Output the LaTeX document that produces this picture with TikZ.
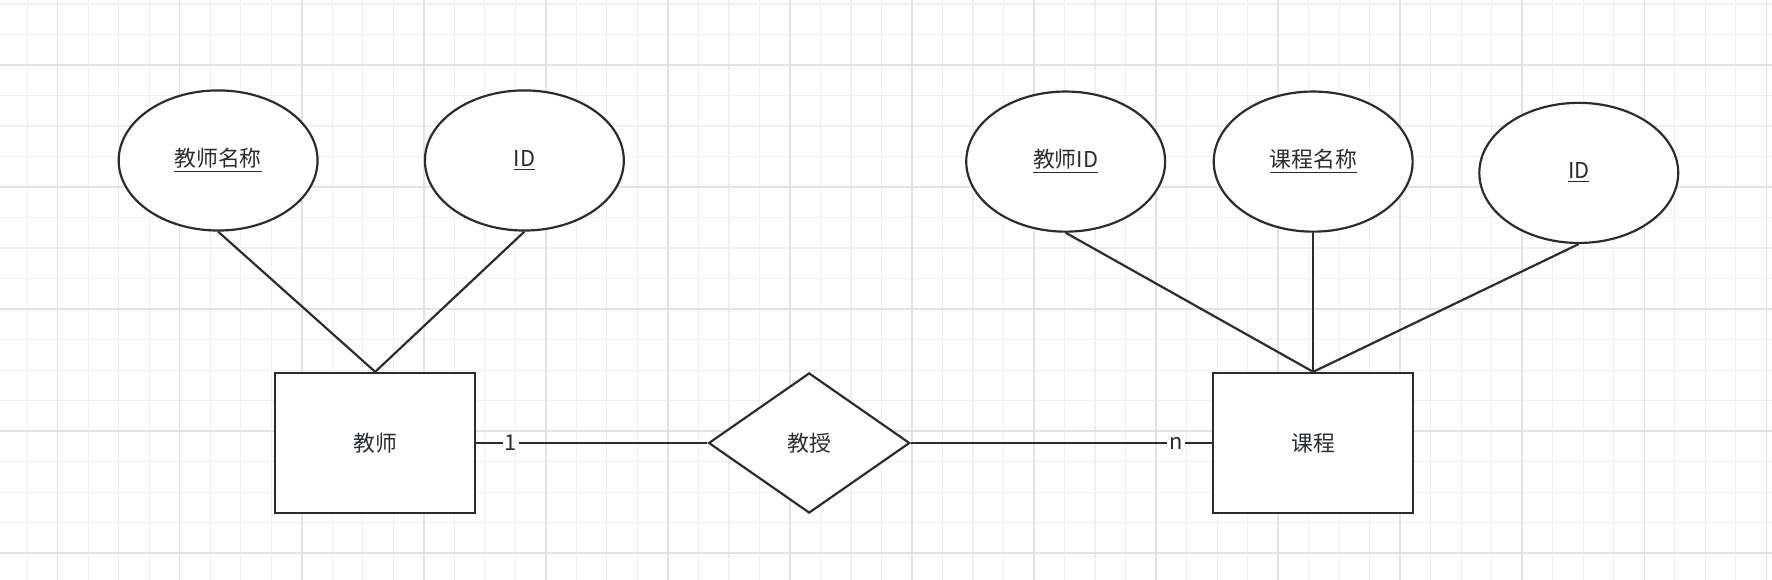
\documentclass[tikz,border=0pt]{standalone}
\usepackage{fontspec}
\setmainfont{Noto Sans CJK SC}
\usetikzlibrary{shapes.geometric}
\definecolor{ink}{HTML}{2A2D30}
\definecolor{gridminor}{HTML}{F0F0F0}
\definecolor{gridmajor}{HTML}{E3E3E3}
\tikzset{
  attr/.style={draw=ink, line width=1.1pt, ellipse, minimum width=3.52cm, minimum height=2.48cm, fill=white, font=\fontsize{11pt}{13pt}\selectfont, text=ink},
  entity/.style={draw=ink, line width=1.1pt, rectangle, minimum width=3.54cm, minimum height=2.48cm, fill=white, font=\fontsize{11pt}{13pt}\selectfont, text=ink},
  rel/.style={draw=ink, line width=1.1pt, diamond, aspect=1.43, minimum width=3.56cm, minimum height=2.48cm, inner sep=0pt, fill=white, font=\fontsize{11pt}{13pt}\selectfont, text=ink},
  link/.style={draw=ink, line width=1.1pt},
  card/.style={fill=white, text=ink, inner sep=1pt, font=\fontsize{11pt}{13pt}\selectfont}
}
\begin{document}
\begin{tikzpicture}
  \useasboundingbox (0,0) rectangle (31.36,-10.26);
  % grid
  \begin{scope}
    \clip (0,0) rectangle (31.36,-10.26);
    \draw[gridminor, line width=0.6pt, xshift=1.02cm, yshift=-1.15cm] (-2.16,-10.8) grid[step=0.54] (32.4,2.16);
    \draw[gridmajor, line width=0.8pt, xshift=1.02cm, yshift=-1.15cm] (-2.16,-10.8) grid[step=2.16] (32.4,2.16);
  \end{scope}

  \node[attr] (tname) at (3.86,-2.84) {\underline{教师名称}};
  \node[attr] (tid) at (9.28,-2.84) {\underline{ID}};
  \node[entity] (teacher) at (6.64,-7.84) {教师};
  \node[rel] (teach) at (14.32,-7.84) {教授};
  \node[entity] (course) at (23.24,-7.84) {课程};
  \node[attr] (ctid) at (18.86,-2.86) {\underline{教师ID}};
  \node[attr] (cname) at (23.24,-2.86) {\underline{课程名称}};
  \node[attr] (cid) at (27.94,-3.06) {\underline{ID}};

  \draw[link] (tname.south) -- (teacher.north);
  \draw[link] (tid.south) -- (teacher.north);
  \draw[link] (ctid.south) -- (course.north);
  \draw[link] (cname.south) -- (course.north);
  \draw[link] (cid.south) -- (course.north);
  \draw[link] (teacher.east) -- node[card, pos=0.15] {1} (teach.west);
  \draw[link] (teach.east) -- node[card, pos=0.88] {n} (course.west);
\end{tikzpicture}
\end{document}
